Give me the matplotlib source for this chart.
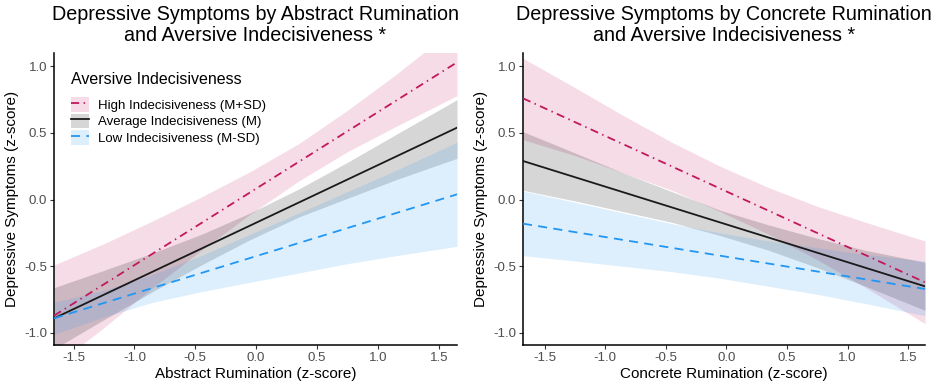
"""Depressive symptoms by rumination type x aversive indecisiveness (simple slopes)."""

import matplotlib
matplotlib.use("Agg")
import matplotlib.pyplot as plt
from matplotlib.patches import Patch
from matplotlib.lines import Line2D

plt.rcParams["font.family"] = ["Liberation Sans", "DejaVu Sans"]

GROUPS = ["High Indecisiveness (M+SD)", "Average Indecisiveness (M)", "Low Indecisiveness (M-SD)"]

# ---- abstract rumination panel ----
abs_xlim = (-1.66, 1.65)
abs_line_x = [-1.66, 1.65]
abs_high = [-0.87, 1.03]
abs_avg = [-0.89, 0.54]
abs_low = [-0.89, 0.04]

abs_band_x = [-1.66, -1.25, -0.85, -0.45, -0.05, 0.35, 0.75, 1.15, 1.65]
abs_high_hi = [-0.49, -0.33, -0.16, 0.02, 0.21, 0.42, 0.67, 0.94, 1.30]
abs_high_lo = [-1.25, -0.96, -0.66, -0.38, -0.11, 0.14, 0.36, 0.55, 0.78]
abs_avg_hi = [-0.66, -0.53, -0.40, -0.26, -0.10, 0.08, 0.28, 0.49, 0.75]
abs_avg_lo = [-1.12, -0.90, -0.69, -0.49, -0.30, -0.13, 0.01, 0.15, 0.31]
abs_low_hi = [-0.77, -0.68, -0.56, -0.42, -0.26, -0.10, 0.06, 0.22, 0.43]
abs_low_lo = [-1.01, -0.88, -0.77, -0.69, -0.62, -0.55, -0.48, -0.42, -0.35]

# ---- concrete rumination panel ----
con_xlim = (-1.68, 1.64)
con_line_x = [-1.68, 1.64]
con_high = [0.76, -0.62]
con_avg = [0.29, -0.65]
con_low = [-0.18, -0.67]

con_band_x = [-1.68, -1.25, -0.85, -0.45, -0.05, 0.35, 0.75, 1.15, 1.64]
con_high_hi = [1.06, 0.84, 0.63, 0.43, 0.25, 0.09, -0.05, -0.17, -0.31]
con_high_lo = [0.45, 0.33, 0.20, 0.07, -0.09, -0.26, -0.45, -0.66, -0.93]
con_avg_hi = [0.51, 0.35, 0.20, 0.06, -0.08, -0.19, -0.29, -0.38, -0.47]
con_avg_lo = [0.07, -0.01, -0.09, -0.17, -0.27, -0.38, -0.51, -0.65, -0.83]
con_low_hi = [0.065, -0.02, -0.10, -0.18, -0.25, -0.31, -0.36, -0.41, -0.46]
con_low_lo = [-0.42, -0.46, -0.50, -0.54, -0.59, -0.65, -0.71, -0.78, -0.87]

X_TICKS = [-1.5, -1.0, -0.5, 0.0, 0.5, 1.0, 1.5]
Y_TICKS = [-1.0, -0.5, 0.0, 0.5, 1.0]

RED = "#C2185B"
BLUE = "#2196F3"
STYLES = [  # (line colour, fill colour, fill alpha, linestyle)
    (RED, RED, 0.15, (0, (4.5, 2.5, 0.8, 2.5))),
    ("#1a1a1a", "#000000", 0.16, "-"),
    (BLUE, BLUE, 0.15, (0, (5, 3.5))),
]


def draw(ax, line_x, lines, band_x, bands, xlim, xlabel, title):
    for (his, los), (lc, fc, fa, ls) in zip(bands, STYLES):
        ax.fill_between(band_x, los, his, color=fc, alpha=fa, lw=0, zorder=1)
    for ys, (lc, fc, fa, ls) in zip(lines, STYLES):
        ax.plot(line_x, ys, color=lc, ls=ls, lw=1.3, zorder=3)
    ax.set_xlim(*xlim)
    ax.set_ylim(-1.09, 1.1)
    ax.set_xticks(X_TICKS)
    ax.set_xticklabels([f"{v:.1f}" for v in X_TICKS])
    ax.set_yticks(Y_TICKS)
    ax.set_yticklabels([f"{v:.1f}" for v in Y_TICKS])
    for s in ("top", "right"):
        ax.spines[s].set_visible(False)
    for s in ("left", "bottom"):
        ax.spines[s].set_linewidth(1.1)
    ax.tick_params(length=3, width=0.8, color="#333333", labelcolor="#4d4d4d",
                   labelsize=9.5, pad=2)
    ax.set_xlabel(xlabel, fontsize=11, labelpad=2)
    ax.set_ylabel("Depressive Symptoms (z-score)", fontsize=11, labelpad=4)
    ax.set_title(title, fontsize=14.2, pad=9, linespacing=1.12)


fig = plt.figure(figsize=(9.35, 3.9), dpi=100)
ax1 = fig.add_axes([0.0578, 0.1154, 0.4310, 0.7487])
ax2 = fig.add_axes([0.5594, 0.1154, 0.4299, 0.7487])

draw(ax1, abs_line_x, [abs_high, abs_avg, abs_low], abs_band_x,
     [(abs_high_hi, abs_high_lo), (abs_avg_hi, abs_avg_lo), (abs_low_hi, abs_low_lo)],
     abs_xlim, "Abstract Rumination (z-score)",
     "Depressive Symptoms by Abstract Rumination\nand Aversive Indecisiveness *")
draw(ax2, con_line_x, [con_high, con_avg, con_low], con_band_x,
     [(con_high_hi, con_high_lo), (con_avg_hi, con_avg_lo), (con_low_hi, con_low_lo)],
     con_xlim, "Concrete Rumination (z-score)",
     "Depressive Symptoms by Concrete Rumination\nand Aversive Indecisiveness *")

handles = []
for lc, fc, fa, ls in STYLES:
    handles.append((Patch(facecolor=fc, alpha=fa, lw=0),
                    Line2D([], [], color=lc, ls=ls, lw=1.3)))
leg = ax1.legend(handles, GROUPS, title="Aversive Indecisiveness", loc="upper left",
                 bbox_to_anchor=(0.02, 0.965), frameon=False, fontsize=9.5,
                 title_fontsize=11.5, handlelength=1.35, handleheight=1.35,
                 labelspacing=0.12, handletextpad=0.65, borderaxespad=0.3)
leg._legend_box.align = "left"
leg._legend_box.sep = 7

fig.savefig("out.png", dpi=100)
